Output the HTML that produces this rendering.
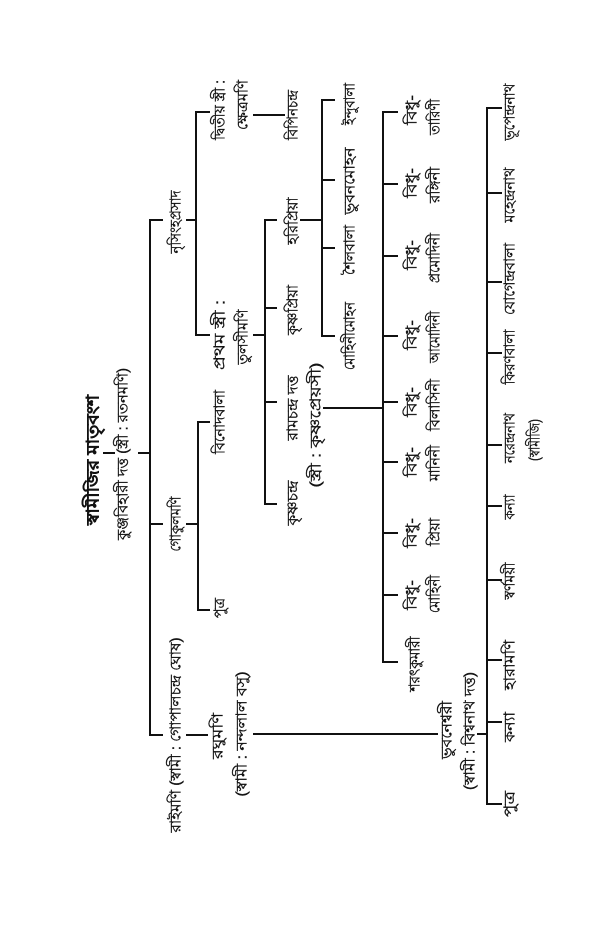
<!DOCTYPE html>
<html><head><meta charset="utf-8"><style>
html,body{margin:0;padding:0;background:#fff;}
svg{display:block}
text{font-family:"Liberation Sans","Noto Sans CJK SC",sans-serif;fill:#111;stroke:#111;stroke-width:0.35;dominant-baseline:central;text-anchor:middle}
line{stroke:#111;stroke-width:2}
</style></head><body>
<svg width="600" height="944" viewBox="0 0 600 944" xmlns="http://www.w3.org/2000/svg">
<line x1="103" y1="453" x2="115" y2="453"/>
<line x1="138" y1="453" x2="151" y2="453"/>
<line x1="150" y1="219" x2="150" y2="736"/>
<line x1="150" y1="220" x2="163" y2="220"/>
<line x1="150" y1="524" x2="163" y2="524"/>
<line x1="150" y1="735" x2="163" y2="735"/>
<line x1="186" y1="524" x2="198" y2="524"/>
<line x1="198" y1="421" x2="198" y2="611"/>
<line x1="198" y1="422" x2="210" y2="422"/>
<line x1="198" y1="610" x2="210" y2="610"/>
<line x1="186" y1="735" x2="208" y2="735"/>
<line x1="253" y1="734" x2="438" y2="734"/>
<line x1="477" y1="734" x2="487" y2="734"/>
<line x1="487" y1="107" x2="487" y2="805"/>
<line x1="487" y1="108" x2="502" y2="108"/>
<line x1="487" y1="193" x2="502" y2="193"/>
<line x1="487" y1="282" x2="502" y2="282"/>
<line x1="487" y1="353" x2="502" y2="353"/>
<line x1="487" y1="445" x2="502" y2="445"/>
<line x1="487" y1="506" x2="502" y2="506"/>
<line x1="487" y1="580" x2="502" y2="580"/>
<line x1="487" y1="660" x2="502" y2="660"/>
<line x1="487" y1="722" x2="502" y2="722"/>
<line x1="487" y1="804" x2="502" y2="804"/>
<line x1="186" y1="220" x2="196" y2="220"/>
<line x1="196" y1="111" x2="196" y2="336"/>
<line x1="196" y1="112" x2="210" y2="112"/>
<line x1="196" y1="335" x2="210" y2="335"/>
<line x1="253" y1="115" x2="285" y2="115"/>
<line x1="253" y1="335" x2="265" y2="335"/>
<line x1="265" y1="219" x2="265" y2="505"/>
<line x1="265" y1="220" x2="277" y2="220"/>
<line x1="265" y1="308" x2="277" y2="308"/>
<line x1="265" y1="402" x2="277" y2="402"/>
<line x1="265" y1="504" x2="277" y2="504"/>
<line x1="300" y1="220" x2="322" y2="220"/>
<line x1="322" y1="99" x2="322" y2="337"/>
<line x1="322" y1="100" x2="335" y2="100"/>
<line x1="322" y1="180" x2="335" y2="180"/>
<line x1="322" y1="248" x2="335" y2="248"/>
<line x1="322" y1="336" x2="335" y2="336"/>
<line x1="323" y1="408" x2="383" y2="408"/>
<line x1="383" y1="111" x2="383" y2="663"/>
<line x1="383" y1="112" x2="398" y2="112"/>
<line x1="383" y1="184" x2="398" y2="184"/>
<line x1="383" y1="256" x2="398" y2="256"/>
<line x1="383" y1="336" x2="398" y2="336"/>
<line x1="383" y1="402" x2="398" y2="402"/>
<line x1="383" y1="462" x2="398" y2="462"/>
<line x1="383" y1="533" x2="398" y2="533"/>
<line x1="383" y1="595" x2="398" y2="595"/>
<line x1="383" y1="662" x2="398" y2="662"/>

<g font-size="17" font-weight="bold"><text transform="translate(93,460) rotate(-90)" textLength="130" lengthAdjust="spacingAndGlyphs">স্বামীজির মাতৃবংশ</text></g>
<g font-size="15">
<text transform="translate(123,454) rotate(-90)" textLength="172" lengthAdjust="spacingAndGlyphs">কুঞ্জবিহারী দত্ত (স্ত্রী : রতনমণি)</text>
<text transform="translate(176,222) rotate(-90)" textLength="63" lengthAdjust="spacingAndGlyphs">নৃসিংহপ্রসাদ</text>
<text transform="translate(176,524) rotate(-90)" textLength="55" lengthAdjust="spacingAndGlyphs">গোকুলমণি</text>
<text transform="translate(176,735) rotate(-90)" textLength="195" lengthAdjust="spacingAndGlyphs">রাইমণি (স্বামী : গোপালচন্দ্র ঘোষ)</text>
<text transform="translate(220,422) rotate(-90)" textLength="64" lengthAdjust="spacingAndGlyphs">বিনোদবালা</text>
<text transform="translate(220,608) rotate(-90)" textLength="20" lengthAdjust="spacingAndGlyphs">পুত্র</text>
<text transform="translate(218,736) rotate(-90)" textLength="46" lengthAdjust="spacingAndGlyphs">রঘুমণি</text>
<text transform="translate(242,734) rotate(-90)" textLength="125" lengthAdjust="spacingAndGlyphs">(স্বামী : নন্দলাল বসু)</text>
<text transform="translate(220,110) rotate(-90)" textLength="60" lengthAdjust="spacingAndGlyphs">দ্বিতীয় স্ত্রী :</text>
<text transform="translate(243,105) rotate(-90)" textLength="50" lengthAdjust="spacingAndGlyphs">ক্ষেত্রমণি</text>
<text transform="translate(293,115) rotate(-90)" textLength="50" lengthAdjust="spacingAndGlyphs">বিপিনচন্দ্র</text>
<text transform="translate(220,335) rotate(-90)" textLength="70" lengthAdjust="spacingAndGlyphs">প্রথম স্ত্রী :</text>
<text transform="translate(243,337) rotate(-90)" textLength="55" lengthAdjust="spacingAndGlyphs">তুলসীমণি</text>
<text transform="translate(293,221) rotate(-90)" textLength="47" lengthAdjust="spacingAndGlyphs">হরিপ্রিয়া</text>
<text transform="translate(293,310) rotate(-90)" textLength="50" lengthAdjust="spacingAndGlyphs">কৃষ্ণপ্রিয়া</text>
<text transform="translate(293,408) rotate(-90)" textLength="65" lengthAdjust="spacingAndGlyphs">রামচন্দ্র দত্ত</text>
<text transform="translate(316,425) rotate(-90)" textLength="125" lengthAdjust="spacingAndGlyphs">(স্ত্রী : কৃষ্ণপ্রেয়সী)</text>
<text transform="translate(293,503) rotate(-90)" textLength="45" lengthAdjust="spacingAndGlyphs">কৃষ্ণচন্দ্র</text>
<text transform="translate(350,104) rotate(-90)" textLength="42" lengthAdjust="spacingAndGlyphs">ইন্দুবালা</text>
<text transform="translate(350,181) rotate(-90)" textLength="67" lengthAdjust="spacingAndGlyphs">ভুবনমোহন</text>
<text transform="translate(350,250) rotate(-90)" textLength="50" lengthAdjust="spacingAndGlyphs">শৈলবালা</text>
<text transform="translate(350,336) rotate(-90)" textLength="68" lengthAdjust="spacingAndGlyphs">মোহিনীমোহন</text>
<text transform="translate(412,110) rotate(-90)" textLength="30" lengthAdjust="spacingAndGlyphs">বিধু-</text>
<text transform="translate(435,117) rotate(-90)" textLength="36" lengthAdjust="spacingAndGlyphs">তারিণী</text>
<text transform="translate(412,183) rotate(-90)" textLength="30" lengthAdjust="spacingAndGlyphs">বিধু-</text>
<text transform="translate(435,185) rotate(-90)" textLength="36" lengthAdjust="spacingAndGlyphs">রঙ্গিনী</text>
<text transform="translate(412,255) rotate(-90)" textLength="30" lengthAdjust="spacingAndGlyphs">বিধু-</text>
<text transform="translate(435,258) rotate(-90)" textLength="50" lengthAdjust="spacingAndGlyphs">প্রমোদিনী</text>
<text transform="translate(412,335) rotate(-90)" textLength="30" lengthAdjust="spacingAndGlyphs">বিধু-</text>
<text transform="translate(435,337) rotate(-90)" textLength="52" lengthAdjust="spacingAndGlyphs">আমোদিনী</text>
<text transform="translate(412,402) rotate(-90)" textLength="30" lengthAdjust="spacingAndGlyphs">বিধু-</text>
<text transform="translate(435,405) rotate(-90)" textLength="52" lengthAdjust="spacingAndGlyphs">বিলাসিনী</text>
<text transform="translate(412,462) rotate(-90)" textLength="30" lengthAdjust="spacingAndGlyphs">বিধু-</text>
<text transform="translate(435,463) rotate(-90)" textLength="36" lengthAdjust="spacingAndGlyphs">মানিনী</text>
<text transform="translate(412,533) rotate(-90)" textLength="30" lengthAdjust="spacingAndGlyphs">বিধু-</text>
<text transform="translate(435,532) rotate(-90)" textLength="28" lengthAdjust="spacingAndGlyphs">প্রিয়া</text>
<text transform="translate(412,595) rotate(-90)" textLength="30" lengthAdjust="spacingAndGlyphs">বিধু-</text>
<text transform="translate(435,594) rotate(-90)" textLength="38" lengthAdjust="spacingAndGlyphs">মোহিনী</text>
<text transform="translate(415,664) rotate(-90)" textLength="55" lengthAdjust="spacingAndGlyphs">শরৎকুমারী</text>
<text transform="translate(447,730) rotate(-90)" textLength="58" lengthAdjust="spacingAndGlyphs">ভুবনেশ্বরী</text>
<text transform="translate(470,731) rotate(-90)" textLength="118" lengthAdjust="spacingAndGlyphs">(স্বামী : বিশ্বনাথ দত্ত)</text>
<text transform="translate(510,112) rotate(-90)" textLength="57" lengthAdjust="spacingAndGlyphs">ভূপেন্দ্রনাথ</text>
<text transform="translate(510,195) rotate(-90)" textLength="55" lengthAdjust="spacingAndGlyphs">মহেন্দ্রনাথ</text>
<text transform="translate(510,279) rotate(-90)" textLength="72" lengthAdjust="spacingAndGlyphs">যোগেন্দ্রবালা</text>
<text transform="translate(510,357) rotate(-90)" textLength="55" lengthAdjust="spacingAndGlyphs">কিরণবালা</text>
<text transform="translate(510,438) rotate(-90)" textLength="50" lengthAdjust="spacingAndGlyphs">নরেন্দ্রনাথ</text>
<text transform="translate(535,440) rotate(-90)" textLength="42" lengthAdjust="spacingAndGlyphs">(স্বামীজি)</text>
<text transform="translate(510,507) rotate(-90)" textLength="25" lengthAdjust="spacingAndGlyphs">কন্যা</text>
<text transform="translate(510,581) rotate(-90)" textLength="37" lengthAdjust="spacingAndGlyphs">স্বর্ণময়ী</text>
<text transform="translate(510,665) rotate(-90)" textLength="50" lengthAdjust="spacingAndGlyphs">হারামণি</text>
<text transform="translate(510,727) rotate(-90)" textLength="30" lengthAdjust="spacingAndGlyphs">কন্যা</text>
<text transform="translate(510,804) rotate(-90)" textLength="26" lengthAdjust="spacingAndGlyphs">পুত্র</text>
</g>
</svg>
</body></html>
